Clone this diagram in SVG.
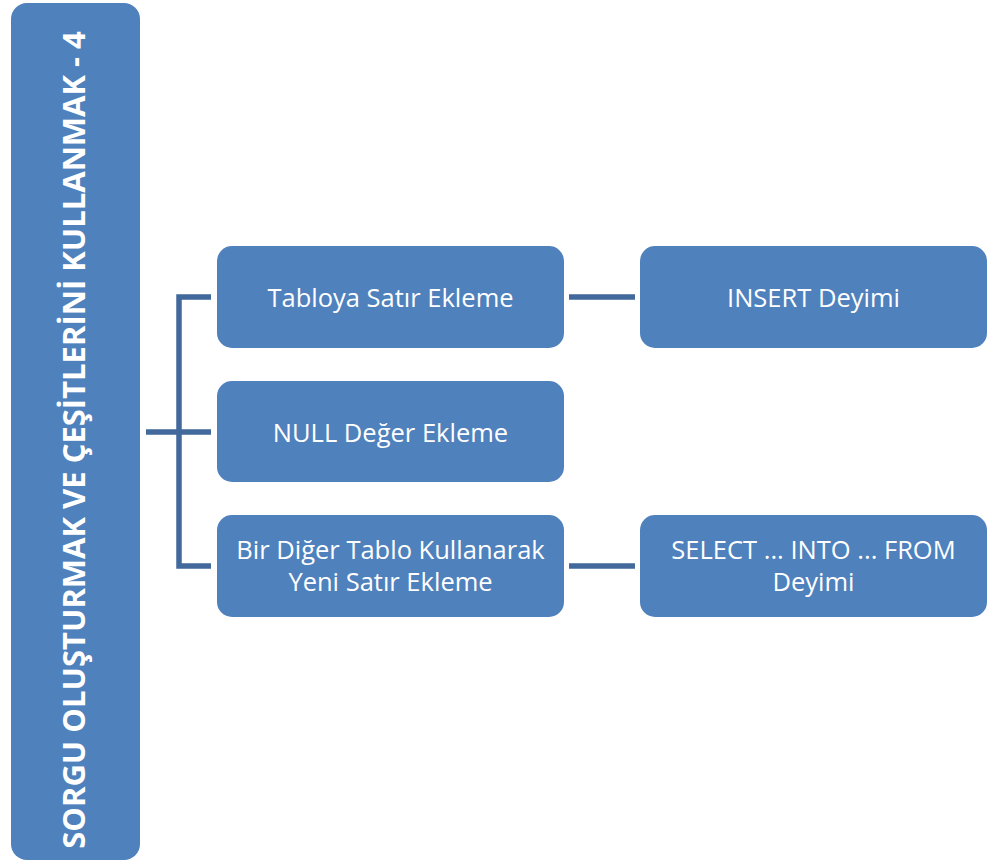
<svg xmlns="http://www.w3.org/2000/svg" width="991" height="861" viewBox="0 0 991 861">
<style>
.box{fill:#4f81bd;}
.t{font-family:"Open Sans","Liberation Sans",sans-serif;font-size:25.5px;fill:#ffffff;text-anchor:middle;dominant-baseline:central;}
.v{font-family:"Open Sans","Liberation Sans",sans-serif;font-size:31px;font-weight:bold;fill:#ffffff;text-anchor:middle;dominant-baseline:central;}
.c{stroke:#41699b;stroke-width:5.5;fill:none;}
</style>
<rect width="991" height="861" fill="#ffffff"/>
<g id="connectors">
<path class="c" d="M211,297 H179 V566 H211"/>
<path class="c" d="M146,432 H211"/>
<path class="c" d="M569,297 H635"/>
<path class="c" d="M569,566 H635"/>
</g>
<g id="root">
<rect class="box" x="11" y="3" width="129" height="857" rx="16"/>
<text class="v" transform="translate(73,440) rotate(-90)">SORGU OLUŞTURMAK VE ÇEŞİTLERİNİ KULLANMAK - 4</text>
</g>
<g id="n1">
<rect class="box" x="217" y="246" width="347" height="102" rx="15"/>
<text class="t" x="390.5" y="297">Tabloya Satır Ekleme</text>
</g>
<g id="n2">
<rect class="box" x="217" y="381" width="347" height="101" rx="15"/>
<text class="t" x="390.5" y="432">NULL Değer Ekleme</text>
</g>
<g id="n3">
<rect class="box" x="217" y="515" width="347" height="102" rx="15"/>
<text class="t" x="390.5" y="549">Bir Diğer Tablo Kullanarak</text>
<text class="t" x="390.5" y="581">Yeni Satır Ekleme</text>
</g>
<g id="n4">
<rect class="box" x="640" y="246" width="347" height="102" rx="15"/>
<text class="t" x="813.5" y="297">INSERT Deyimi</text>
</g>
<g id="n5">
<rect class="box" x="640" y="515" width="347" height="102" rx="15"/>
<text class="t" x="813.5" y="549">SELECT ... INTO ... FROM</text>
<text class="t" x="813.5" y="581">Deyimi</text>
</g>
</svg>
